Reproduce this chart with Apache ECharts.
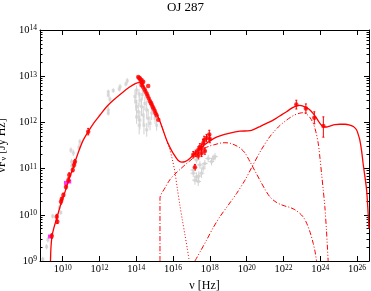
<!DOCTYPE html>
<html><head><meta charset="utf-8">
<script src="https://cdn.jsdelivr.net/npm/echarts@6/dist/echarts.min.js"></script>
<style>html,body{margin:0;padding:0;background:#fff}#c{width:371px;height:291px}</style>
</head><body><div id="c"></div>
<script>
// All values are log10(nu [Hz]) and log10(nuF_nu [Jy Hz])
const xTickExp = [10, 12, 14, 16, 18, 20, 22, 24, 26];
const yTickExp = [9, 10, 11, 12, 13, 14];

// [logNu, logF, errDown, errUp, errNu]
const greyRadio = [
  [8.92, 9.04, 0.05, 0.05, 0], [9.13, 9.31, 0.06, 0.06, 0], [9.20, 9.46, 0.06, 0.06, 0],
  [9.46, 9.97, 0.05, 0.05, 0], [9.82, 10.16, 0.06, 0.06, 0], [9.90, 10.05, 0.05, 0.05, 0],
  [10.49, 11.06, 0.06, 0.06, 0], [10.49, 11.15, 0.06, 0.06, 0], [10.58, 11.34, 0.07, 0.07, 0],
  [10.45, 11.40, 0.06, 0.06, 0], [10.89, 11.46, 0.07, 0.07, 0], [10.94, 11.58, 0.06, 0.06, 0],
  [12.48, 12.20, 0.05, 0.05, 0]
];
const greyIR = [
  [12.48, 12.66, 0.05, 0.05, 0], [12.48, 12.59, 0.05, 0.05, 0], [12.57, 12.50, 0.06, 0.06, 0],
  [12.48, 12.27, 0.08, 0.08, 0], [12.75, 12.69, 0.05, 0.05, 0], [13.08, 12.72, 0.05, 0.05, 0],
  [13.12, 12.77, 0.06, 0.06, 0], [13.44, 12.83, 0.05, 0.05, 0], [13.51, 12.90, 0.06, 0.06, 0]
];
const greyOpt = [
  [13.93, 12.56, 0.15, 0.15, 0], [13.98, 12.45, 0.2, 0.2, 0], [14.02, 12.34, 0.15, 0.15, 0],
  [14.11, 12.23, 0.2, 0.2, 0], [14.02, 12.12, 0.15, 0.15, 0], [14.20, 12.48, 0.15, 0.15, 0],
  [14.29, 12.34, 0.2, 0.2, 0], [14.38, 12.16, 0.2, 0.2, 0], [14.47, 12.41, 0.15, 0.15, 0],
  [14.57, 12.27, 0.2, 0.2, 0], [14.65, 12.09, 0.2, 0.2, 0], [14.75, 11.98, 0.15, 0.15, 0],
  [14.20, 12.05, 0.2, 0.2, 0], [14.16, 11.94, 0.2, 0.2, 0], [14.42, 11.94, 0.2, 0.2, 0],
  [14.57, 11.84, 0.15, 0.15, 0], [14.84, 12.20, 0.15, 0.15, 0], [15.02, 12.09, 0.12, 0.12, 0],
  [15.11, 11.94, 0.12, 0.12, 0], [14.02, 12.70, 0.1, 0.1, 0], [14.15, 12.62, 0.1, 0.1, 0],
  [14.33, 12.60, 0.12, 0.12, 0]
];
const greyX = [
  [17.10, 10.97, 0.08, 0.08, 0.15], [17.10, 10.90, 0.08, 0.08, 0.15], [17.19, 10.75, 0.1, 0.1, 0.15],
  [17.28, 11.19, 0.08, 0.08, 0.15], [17.28, 10.82, 0.1, 0.1, 0.15], [17.37, 10.72, 0.1, 0.1, 0.15],
  [17.40, 10.84, 0.1, 0.1, 0.15], [17.46, 11.08, 0.08, 0.08, 0.15], [17.55, 10.90, 0.1, 0.1, 0.15],
  [17.64, 11.01, 0.08, 0.08, 0.15], [17.73, 11.11, 0.08, 0.08, 0.15], [17.91, 11.22, 0.08, 0.08, 0.15],
  [18.09, 11.15, 0.08, 0.08, 0.15], [18.28, 11.26, 0.08, 0.08, 0.15], [18.18, 11.22, 0.08, 0.08, 0.15]
];
const magentaRadio = [[9.31, 9.53], [10.18, 10.69], [10.36, 10.72]];
const redRadio = [
  [9.41, 9.54, 0.05, 0.05, 0], [9.68, 9.96, 0.05, 0.05, 0], [9.71, 9.85, 0.04, 0.04, 0],
  [9.91, 10.28, 0.05, 0.05, 0], [9.95, 10.34, 0.04, 0.04, 0], [10.04, 10.43, 0.04, 0.04, 0],
  [10.18, 10.60, 0.04, 0.04, 0], [10.31, 10.75, 0.05, 0.05, 0], [10.36, 10.86, 0.05, 0.05, 0],
  [10.55, 10.97, 0.04, 0.04, 0], [10.62, 11.08, 0.05, 0.05, 0], [10.67, 11.15, 0.05, 0.05, 0],
  [11.39, 11.80, 0.07, 0.07, 0]
];
const redOpt = [
  [14.11, 12.98, 0, 0, 0], [14.16, 12.96, 0, 0, 0], [14.20, 12.95, 0, 0, 0], [14.24, 12.90, 0, 0, 0],
  [14.29, 12.92, 0, 0, 0], [14.33, 12.86, 0, 0, 0], [14.38, 12.88, 0, 0, 0], [14.29, 12.81, 0, 0, 0],
  [14.36, 12.77, 0, 0, 0], [14.65, 12.79, 0, 0, 0], [14.45, 12.72, 0, 0, 0], [14.50, 12.67, 0, 0, 0],
  [14.57, 12.62, 0, 0, 0], [14.62, 12.57, 0, 0, 0], [14.68, 12.52, 0, 0, 0], [14.75, 12.46, 0, 0, 0],
  [14.80, 12.42, 0, 0, 0], [14.84, 12.39, 0, 0, 0], [14.89, 12.34, 0, 0, 0], [14.94, 12.30, 0, 0, 0],
  [15.00, 12.25, 0, 0, 0], [15.05, 12.20, 0, 0, 0], [15.11, 12.15, 0, 0, 0], [15.20, 12.06, 0, 0, 0]
];
const redX = [
  [17.10, 11.30, 0.07, 0.07, 0.05], [17.19, 11.03, 0.06, 0.06, 0.04], [17.23, 11.33, 0.07, 0.07, 0.05],
  [17.37, 11.40, 0.07, 0.07, 0.05], [17.37, 11.28, 0.07, 0.07, 0.05], [17.46, 11.47, 0.07, 0.07, 0.05],
  [17.55, 11.44, 0.08, 0.08, 0.05], [17.55, 11.33, 0.07, 0.07, 0.05], [17.64, 11.55, 0.08, 0.08, 0.05],
  [17.69, 11.62, 0.08, 0.08, 0.05], [17.73, 11.38, 0.07, 0.07, 0.05], [17.82, 11.66, 0.08, 0.08, 0.05],
  [17.97, 11.74, 0.09, 0.09, 0.05], [18.00, 11.64, 0.08, 0.08, 0.05]
];
const redGamma = [
  [22.70, 12.39, 0.10, 0.09, 0.04], [23.22, 12.30, 0.10, 0.10, 0.04],
  [23.68, 12.10, 0.13, 0.13, 0.04], [24.17, 11.92, 0.24, 0.20, 0.04]
];

// model curves [logNu, logF]
const modelTotal = [
  [9.34, 9.00], [9.36, 9.25], [9.39, 9.42], [9.43, 9.55], [9.50, 9.68], [9.60, 9.82], [9.70, 9.95],
  [9.82, 10.12], [9.95, 10.29], [10.10, 10.46], [10.22, 10.61], [10.36, 10.78], [10.49, 10.93],
  [10.67, 11.14], [10.85, 11.35], [11.10, 11.60], [11.39, 11.80], [11.70, 11.99], [12.03, 12.16],
  [12.39, 12.34], [12.75, 12.48], [13.29, 12.66], [13.66, 12.77], [13.95, 12.84], [14.15, 12.86],
  [14.31, 12.83], [14.45, 12.74], [14.57, 12.63], [14.75, 12.48], [14.92, 12.34], [15.10, 12.19],
  [15.29, 12.02], [15.47, 11.82], [15.65, 11.62], [15.83, 11.46], [16.01, 11.33], [16.27, 11.18],
  [16.47, 11.14], [16.65, 11.15], [16.83, 11.19], [17.19, 11.33], [17.50, 11.45], [17.83, 11.55],
  [18.20, 11.65], [18.55, 11.71], [19.09, 11.77], [19.63, 11.81], [20.18, 11.82], [20.45, 11.86],
  [20.72, 11.91], [21.08, 11.98], [21.44, 12.05], [21.80, 12.14], [22.17, 12.23], [22.45, 12.31],
  [22.71, 12.36], [22.90, 12.37], [23.07, 12.35], [23.26, 12.32], [23.44, 12.27], [23.62, 12.19],
  [23.80, 12.09], [23.95, 12.00], [24.07, 11.94], [24.20, 11.91], [24.34, 11.90], [24.52, 11.92],
  [24.80, 11.95], [25.07, 11.96], [25.35, 11.96], [25.61, 11.94], [25.80, 11.91], [25.97, 11.84],
  [26.08, 11.72], [26.15, 11.62], [26.25, 11.38], [26.33, 11.11], [26.43, 10.82], [26.52, 10.54],
  [26.60, 10.05], [26.65, 9.70]
];
const modelSync = [
  [14.92, 12.34], [15.10, 12.19], [15.29, 12.02], [15.47, 11.82], [15.65, 11.60], [15.79, 11.46],
  [15.95, 11.22], [16.10, 10.93], [16.23, 10.58], [16.37, 10.21], [16.51, 9.88], [16.65, 9.56],
  [16.77, 9.28], [16.88, 9.00]
];
const modelSSC = [
  [15.29, 9.00], [15.29, 10.36], [15.56, 10.58], [15.83, 10.76], [16.10, 10.88], [16.37, 10.98],
  [16.65, 11.08], [16.92, 11.17], [17.19, 11.26], [17.46, 11.35], [17.73, 11.44], [18.00, 11.49],
  [18.28, 11.52], [18.55, 11.55], [18.82, 11.56], [19.09, 11.55], [19.36, 11.51], [19.63, 11.45],
  [19.91, 11.34], [20.18, 11.15], [20.45, 10.95], [20.72, 10.75], [21.00, 10.55], [21.26, 10.39],
  [21.54, 10.29], [21.81, 10.23], [22.08, 10.19], [22.35, 10.16], [22.62, 10.11], [22.89, 10.03],
  [23.08, 9.95], [23.26, 9.82], [23.45, 9.62], [23.62, 9.38], [23.72, 9.20], [23.80, 9.00]
];
const modelEC = [
  [17.19, 9.00], [17.50, 9.22], [17.82, 9.45], [18.18, 9.72], [18.55, 9.96], [19.00, 10.21],
  [19.45, 10.46], [19.91, 10.75], [20.36, 11.09], [20.80, 11.41], [21.26, 11.69], [21.72, 11.90],
  [22.17, 12.05], [22.55, 12.15], [22.89, 12.20], [23.08, 12.21], [23.26, 12.18], [23.45, 12.10],
  [23.62, 11.98], [23.76, 11.80], [23.89, 11.55], [23.98, 11.25], [24.07, 10.90], [24.16, 10.55],
  [24.25, 10.18], [24.34, 9.65], [24.43, 9.00]
];

const FONT = "'Liberation Serif', 'DejaVu Serif', serif";
const X_MIN = 8.77, X_MAX = 26.65, Y_MIN = 9, Y_MAX = 14;
const yMinorTicks = [];
for (let n = Y_MIN; n < Y_MAX; n++) for (let k = 2; k <= 9; k++) yMinorTicks.push(n + Math.log10(k));

const powRich = {
  b: { fontFamily: FONT, fontSize: 10.5, color: '#000' },
  s: { fontFamily: FONT, fontSize: 7.5, color: '#000', verticalAlign: 'top' }
};
const powFmt = v => '{b|10}{s|' + Math.round(v) + '}';

function xAx(pos, labels) {
  return {
    type: 'value', position: pos, min: X_MIN, max: X_MAX, gridIndex: 0,
    axisLine: { show: true, onZero: false, lineStyle: { color: '#000', width: 1 } },
    splitLine: { show: false },
    axisTick: { show: true, inside: true, length: 5, customValues: xTickExp, lineStyle: { color: '#000' } },
    axisLabel: labels ? { show: true, customValues: xTickExp, formatter: powFmt, rich: powRich, margin: 3 } : { show: false },
    name: labels ? '{a|ν [Hz]}' : '', nameLocation: 'middle', nameGap: 17,
    nameTextStyle: { rich: { a: { fontFamily: FONT, fontSize: 12, color: '#000' } } }
  };
}
function yAx(pos, minor, labels) {
  return {
    type: 'value', position: pos, min: Y_MIN, max: Y_MAX, gridIndex: 0,
    axisLine: { show: !minor, onZero: false, lineStyle: { color: '#000', width: 1 } },
    splitLine: { show: false },
    axisTick: { show: true, inside: true, length: minor ? 2.5 : 5, customValues: minor ? yMinorTicks : yTickExp, lineStyle: { color: '#000' } },
    axisLabel: labels ? { show: true, customValues: yTickExp, formatter: powFmt, rich: powRich, margin: 3 } : { show: false },
    name: labels ? '{a|νF}{u|ν}{a| [Jy Hz]}' : '', nameLocation: 'middle', nameGap: 30, nameRotate: 90,
    nameTextStyle: { rich: {
      a: { fontFamily: FONT, fontSize: 12, color: '#000' },
      u: { fontFamily: FONT, fontSize: 8, color: '#000', verticalAlign: 'bottom' }
    } }
  };
}

function errSeries(data, color, cap) {
  return {
    type: 'custom', xAxisIndex: 0, yAxisIndex: 0, silent: true, clip: true,
    data: data, encode: { x: 0, y: 1 },
    renderItem: function (params, api) {
      const x = api.value(0), y = api.value(1), dl = api.value(2), dh = api.value(3), dx = api.value(4);
      const c = api.coord([x, y]);
      const t = api.coord([x, y + dh]);
      const b = api.coord([x, y - dl]);
      const st = { stroke: color, lineWidth: 1 };
      const ch = [];
      if (dl > 0 || dh > 0) {
        ch.push({ type: 'line', shape: { x1: c[0], y1: t[1], x2: c[0], y2: b[1] }, style: st });
        if (cap) {
          ch.push({ type: 'line', shape: { x1: c[0] - cap, y1: t[1], x2: c[0] + cap, y2: t[1] }, style: st });
          ch.push({ type: 'line', shape: { x1: c[0] - cap, y1: b[1], x2: c[0] + cap, y2: b[1] }, style: st });
        }
      }
      if (dx > 0) {
        const l = api.coord([x - dx, y]), r = api.coord([x + dx, y]);
        ch.push({ type: 'line', shape: { x1: l[0], y1: c[1], x2: r[0], y2: c[1] }, style: st });
      }
      return { type: 'group', children: ch };
    }
  };
}
function pts(data, color, symbol, size) {
  return {
    type: 'scatter', xAxisIndex: 0, yAxisIndex: 0, silent: true,
    data: data.map(d => [d[0], d[1]]), symbol: symbol, symbolSize: size,
    itemStyle: { color: color }
  };
}
function curve(data, dash, width) {
  return {
    type: 'line', xAxisIndex: 0, yAxisIndex: 0, silent: true, clip: true,
    data: data, showSymbol: false, symbol: 'none', smooth: 0.3,
    lineStyle: { color: '#ff0000', width: width, type: dash }
  };
}

const GREY = '#d2d2d2';
const greyAll = greyRadio.concat(greyIR, greyOpt, greyX);
const redAll = redRadio.concat(redX, redGamma);

const chart = echarts.init(document.getElementById('c'), null, { renderer: 'canvas' });
chart.setOption({
  animation: false,
  backgroundColor: '#fff',
  title: {
    text: 'OJ 287', left: 'center', top: 1, padding: 0,
    textStyle: { fontFamily: FONT, fontSize: 13, fontWeight: 'normal', color: '#000' }
  },
  grid: { left: 40, right: 2, top: 30, bottom: 30, containLabel: false, outerBoundsMode: 'none' },
  xAxis: [xAx('bottom', true), xAx('top', false)],
  yAxis: [yAx('left', false, true), yAx('left', true, false), yAx('right', false, false), yAx('right', true, false)],
  series: [
    errSeries(greyAll, GREY, 0),
    pts(greyAll, GREY, 'rect', 3),
    curve(modelSync, [1, 2], 1),
    curve(modelSSC, [5, 2, 1, 2], 1),
    curve(modelEC, [5, 2, 1, 2, 1, 2], 1),
    curve(modelTotal, 'solid', 1.3),
    pts(magentaRadio, '#ff00ff', 'rect', 4),
    errSeries(redAll, '#ff0000', 1),
    pts(redAll.concat(redOpt), '#ff0000', 'circle', 4.5)
  ]
});
</script></body></html>
